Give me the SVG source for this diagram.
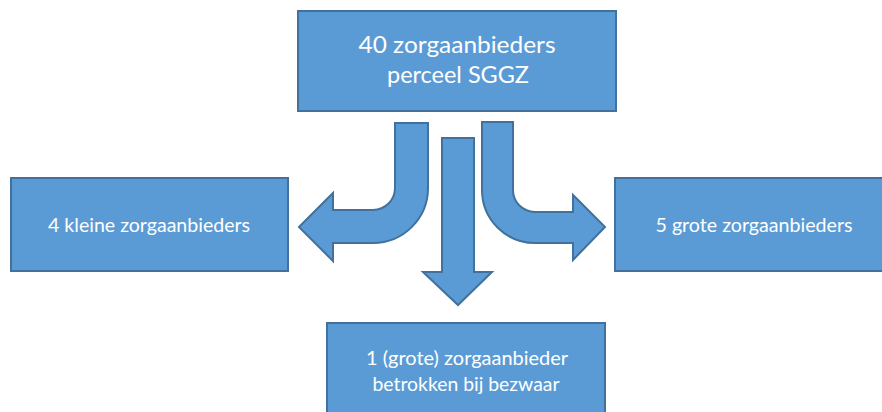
<svg xmlns="http://www.w3.org/2000/svg" width="882" height="412" viewBox="0 0 882 412">
<style>
.box{fill:#5b9bd5;stroke:#41719c;stroke-width:2}
.arr{fill:#5b9bd5;stroke:#41719c;stroke-width:2;stroke-linejoin:miter}
.t{font-family:Lato,"Open Sans","Noto Sans",sans-serif;fill:#ffffff;text-anchor:middle}
.big{font-size:23px}
.sm{font-size:18.5px}
</style>
<rect width="882" height="412" fill="#ffffff"/>
<g id="connectors">
<path class="arr" d="M395,123 L428,123 L428,188 A55,55 0 0 1 373,243 L333,243 L333,261 L299,227 L333,193 L333,210 L373,210 A22,22 0 0 0 395,188 Z"/>
<path class="arr" d="M442,138 L474,138 L474,272 L492,272 L458,305 L423,272 L442,272 Z"/>
<path class="arr" d="M482,122 L513,122 L513,190 A22,22 0 0 0 535,212 L573,212 L573,195 L605,227 L573,260 L573,243 L535,243 A53,53 0 0 1 482,190 Z"/>
</g>
<g id="node-top">
<rect class="box" x="298" y="11" width="318" height="100"/>
<text class="t big" x="457" y="53" textLength="197" lengthAdjust="spacingAndGlyphs">40 zorgaanbieders</text>
<text class="t big" x="458" y="83" textLength="142" lengthAdjust="spacingAndGlyphs">perceel SGGZ</text>
</g>
<g id="node-left">
<rect class="box" x="11" y="178" width="277" height="93"/>
<text class="t sm" x="149" y="232" textLength="202" lengthAdjust="spacingAndGlyphs">4 kleine zorgaanbieders</text>
</g>
<g id="node-right">
<rect class="box" x="615" y="178" width="280" height="93"/>
<text class="t sm" x="754" y="232" textLength="197" lengthAdjust="spacingAndGlyphs">5 grote zorgaanbieders</text>
</g>
<g id="node-bottom">
<rect class="box" x="327" y="323" width="278" height="100"/>
<text class="t sm" x="467" y="365" textLength="202" lengthAdjust="spacingAndGlyphs">1 (grote) zorgaanbieder</text>
<text class="t sm" x="466" y="391" textLength="187" lengthAdjust="spacingAndGlyphs">betrokken bij bezwaar</text>
</g>
</svg>
